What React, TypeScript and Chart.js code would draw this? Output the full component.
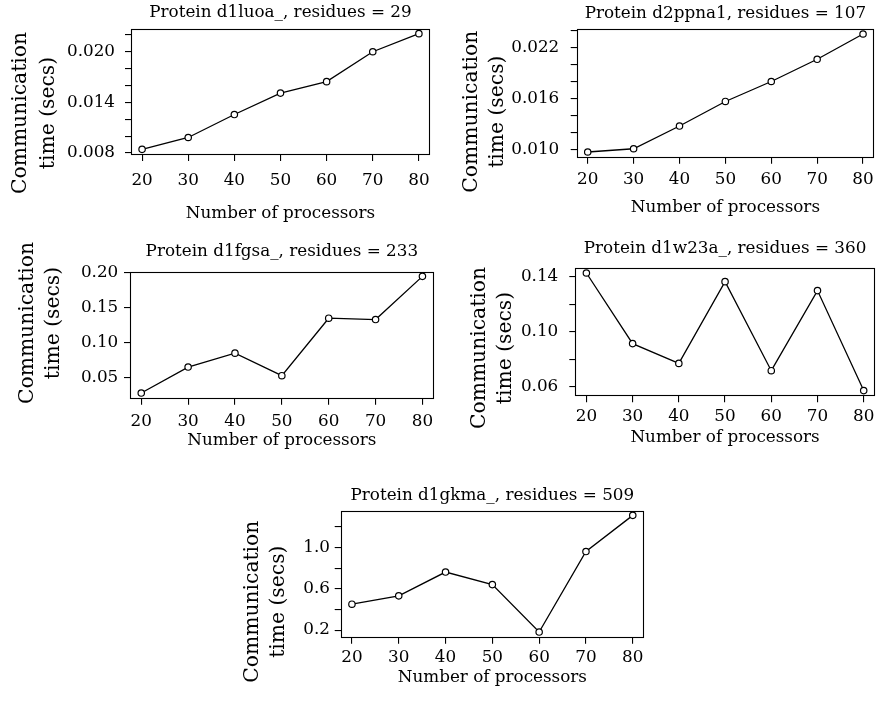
import React, { useEffect, useRef } from "react";
import { Chart, registerables } from "chart.js";

Chart.register(...registerables);

// ---------------- data ----------------
const PROCESSORS = [20, 30, 40, 50, 60, 70, 80];
const X_TICKS = [20, 30, 40, 50, 60, 70, 80];
const X_TICK_LABELS = ["20", "30", "40", "50", "60", "70", "80"];
const X_AXIS_TITLE = "Number of processors";
const Y_AXIS_TITLE = ["Communication", "time (secs)"];

const TITLE_D1LUOA = "Protein d1luoa_, residues = 29";
const TIME_D1LUOA = [0.00843, 0.00984, 0.01256, 0.0151, 0.01646, 0.02, 0.02215];
const YTICKS_D1LUOA = [0.008, 0.01, 0.012, 0.014, 0.016, 0.018, 0.02, 0.022];
const YLABELS_D1LUOA = ["0.008", "", "", "0.014", "", "", "0.020", ""];

const TITLE_D2PPNA1 = "Protein d2ppna1, residues = 107";
const TIME_D2PPNA1 = [0.00977, 0.01015, 0.01282, 0.01571, 0.01806, 0.02067, 0.02364];
const YTICKS_D2PPNA1 = [0.01, 0.012, 0.014, 0.016, 0.018, 0.02, 0.022, 0.024];
const YLABELS_D2PPNA1 = ["0.010", "", "", "0.016", "", "", "0.022", ""];

const TITLE_D1FGSA = "Protein d1fgsa_, residues = 233";
const TIME_D1FGSA = [0.0276, 0.0647, 0.0846, 0.0524, 0.1345, 0.1326, 0.1943];
const YTICKS_D1FGSA = [0.05, 0.1, 0.15, 0.2];
const YLABELS_D1FGSA = ["0.05", "0.10", "0.15", "0.20"];

const TITLE_D1W23A = "Protein d1w23a_, residues = 360";
const TIME_D1W23A = [0.1429, 0.0915, 0.0771, 0.1366, 0.0718, 0.1301, 0.0573];
const YTICKS_D1W23A = [0.06, 0.08, 0.1, 0.12, 0.14];
const YLABELS_D1W23A = ["0.06", "", "0.10", "", "0.14"];

const TITLE_D1GKMA = "Protein d1gkma_, residues = 509";
const TIME_D1GKMA = [0.451, 0.532, 0.763, 0.641, 0.181, 0.962, 1.313];
const YTICKS_D1GKMA = [0.2, 0.4, 0.6, 0.8, 1.0, 1.2];
const YLABELS_D1GKMA = ["0.2", "", "0.6", "", "1.0", ""];

// ---------------- style / layout ----------------
const FONT = "'DejaVu Serif', serif";
const FONT_SIZE = 16.8;
const YLAB_SIZE = 20.3;
const LH = FONT_SIZE * 1.2; // line height used by Chart.js
const MID = FONT_SIZE * 0.346; // baseline offset below canvas "middle"
const CAP = FONT_SIZE * 0.729; // cap / digit height
const X_TICK_LEN = 7;
const Y_TICK_LEN = 6;

// R-style axis range: data range extended by 4% on both sides
function rRange(values: number[]) {
  const lo = Math.min(...values);
  const hi = Math.max(...values);
  const d = (hi - lo) * 0.04;
  return [lo - d, hi + d];
}

type Layout = {
  left: number; top: number; width: number; height: number;
  box: { l: number; r: number; t: number; b: number };
  titleBase: number; // baseline of the main title
  yLabelGap: number; // gap between y tick end and label
  xLabelGap: number; // gap from box bottom to x label cap top
  xTitleTop: number; // cap top of x axis title
  ylab: { x: [number, number]; cy: number };
};

type PanelSpec = {
  title: string;
  values: number[];
  yTicks: number[];
  yLabels: string[];
  layout: Layout;
};

const PANELS: PanelSpec[] = [
  {
    title: TITLE_D1LUOA, values: TIME_D1LUOA, yTicks: YTICKS_D1LUOA, yLabels: YLABELS_D1LUOA,
    layout: {
      left: 0, top: 0, width: 440, height: 230,
      box: { l: 131, r: 434, t: 29, b: 154 },
      titleBase: 18.7, yLabelGap: 10, xLabelGap: 20.7, xTitleTop: 207.3,
      ylab: { x: [26, 53.5], cy: 113 },
    },
  },
  {
    title: TITLE_D2PPNA1, values: TIME_D2PPNA1, yTicks: YTICKS_D2PPNA1, yLabels: YLABELS_D2PPNA1,
    layout: {
      left: 440, top: 0, width: 440, height: 230,
      box: { l: 136.7, r: 439, t: 29.3, b: 156.7 },
      titleBase: 19, yLabelGap: 11.4, xLabelGap: 16.7, xTitleTop: 201,
      ylab: { x: [36.7, 62.5], cy: 111.7 },
    },
  },
  {
    title: TITLE_D1FGSA, values: TIME_D1FGSA, yTicks: YTICKS_D1FGSA, yLabels: YLABELS_D1FGSA,
    layout: {
      left: 0, top: 230, width: 440, height: 240,
      box: { l: 130, r: 434, t: 41.7, b: 167.7 },
      titleBase: 27.2, yLabelGap: 5.7, xLabelGap: 17.3, xTitleTop: 204,
      ylab: { x: [33.3, 59], cy: 93 },
    },
  },
  {
    title: TITLE_D1W23A, values: TIME_D1W23A, yTicks: YTICKS_D1W23A, yLabels: YLABELS_D1W23A,
    layout: {
      left: 440, top: 230, width: 440, height: 240,
      box: { l: 135.3, r: 439, t: 38.3, b: 165.3 },
      titleBase: 24, yLabelGap: 11, xLabelGap: 15.3, xTitleTop: 201.7,
      ylab: { x: [45, 71], cy: 118 },
    },
  },
  {
    title: TITLE_D1GKMA, values: TIME_D1GKMA, yTicks: YTICKS_D1GKMA, yLabels: YLABELS_D1GKMA,
    layout: {
      left: 220, top: 470, width: 440, height: 240,
      box: { l: 120.7, r: 424, t: 40.7, b: 166.7 },
      titleBase: 31, yLabelGap: 4.7, xLabelGap: 15, xTitleTop: 201.7,
      ylab: { x: [38.3, 64], cy: 131.7 },
    },
  },
];

// box around the plotting region
const boxPlugin = {
  id: "rBox",
  afterDraw(chart: any) {
    const { ctx, chartArea: a } = chart;
    ctx.save();
    ctx.strokeStyle = "#000";
    ctx.lineWidth = 1.1;
    const l = Math.round(a.left) + 0.5;
    const t = Math.round(a.top) + 0.5;
    const r = Math.round(a.right) - 0.5;
    const b = Math.round(a.bottom) + 0.5;
    ctx.strokeRect(l, t, r - l, b - t);
    ctx.restore();
  },
};

// two-line rotated y axis label
const yLabPlugin = {
  id: "rYLab",
  afterDraw(chart: any, _args: any, opts: any) {
    const { ctx } = chart;
    ctx.save();
    ctx.fillStyle = "#000";
    ctx.font = `${opts.size}px ${FONT}`;
    ctx.textAlign = "center";
    ctx.textBaseline = "alphabetic";
    (opts.lines as string[]).forEach((line, i) => {
      ctx.save();
      ctx.translate(opts.x[i], opts.cy);
      ctx.rotate(-Math.PI / 2);
      ctx.fillText(line, 0, 0);
      ctx.restore();
    });
    ctx.restore();
  },
};

function Panel({ spec }: { spec: PanelSpec }) {
  const ref = useRef<HTMLCanvasElement>(null);
  useEffect(() => {
    if (!ref.current) return;
    const L = spec.layout;
    const [xmin, xmax] = rRange(PROCESSORS);
    const [ymin, ymax] = rRange(spec.values);
    const font = { family: FONT, size: FONT_SIZE, weight: "normal" as const };
    const titleTop = L.titleBase - (LH / 2 + MID);
    const titleBottom = L.box.t - titleTop - LH;
    const xTickPad = L.xLabelGap + CAP - MID - X_TICK_LEN - LH / 2;
    const xTitleBottom = L.height - LH / 2 - (L.xTitleTop - MID + CAP);
    const chart = new Chart(ref.current, {
      type: "line",
      data: {
        datasets: [
          {
            data: PROCESSORS.map((x, i) => ({ x, y: spec.values[i] })),
            borderColor: "#000",
            borderWidth: 1.3,
            pointRadius: 3.2,
            pointBorderWidth: 1.2,
            pointBackgroundColor: "#fff",
            pointBorderColor: "#000",
            tension: 0,
            fill: false,
          },
        ],
      },
      options: {
        animation: false,
        responsive: false,
        devicePixelRatio: 1,
        layout: { padding: { left: 0, top: 0, right: L.width - L.box.r, bottom: 0 } },
        plugins: {
          legend: { display: false },
          tooltip: { enabled: false },
          title: {
            display: true,
            text: spec.title,
            fullSize: false,
            color: "#000",
            font,
            padding: { top: titleTop, bottom: titleBottom },
          },
          // @ts-ignore
          rYLab: { lines: Y_AXIS_TITLE, x: L.ylab.x, cy: L.ylab.cy, size: YLAB_SIZE },
        },
        scales: {
          x: {
            type: "linear",
            min: xmin,
            max: xmax,
            bounds: "data",
            afterBuildTicks: (s: any) => {
              s.ticks = X_TICKS.map((v) => ({ value: v }));
            },
            afterFit: (s: any) => {
              s.height = L.height - L.box.b;
            },
            ticks: {
              autoSkip: false,
              maxRotation: 0,
              color: "#000",
              font,
              padding: xTickPad,
              callback: (_v: any, i: number) => X_TICK_LABELS[i],
            },
            grid: { drawOnChartArea: false, drawTicks: true, tickLength: X_TICK_LEN, color: "#000", lineWidth: 1.1 },
            border: { display: false },
            title: {
              display: true,
              text: X_AXIS_TITLE,
              color: "#000",
              font,
              padding: { top: 0, bottom: xTitleBottom },
            },
          },
          y: {
            type: "linear",
            min: ymin,
            max: ymax,
            bounds: "data",
            afterBuildTicks: (s: any) => {
              s.ticks = spec.yTicks.map((v) => ({ value: v }));
            },
            afterFit: (s: any) => {
              s.width = L.box.l;
            },
            ticks: {
              autoSkip: false,
              color: "#000",
              font,
              padding: L.yLabelGap,
              callback: (_v: any, i: number) => spec.yLabels[i],
            },
            grid: { drawOnChartArea: false, drawTicks: true, tickLength: Y_TICK_LEN, color: "#000", lineWidth: 1.1 },
            border: { display: false },
          },
        },
      },
      plugins: [boxPlugin, yLabPlugin],
    } as any);
    return () => chart.destroy();
  }, [spec]);
  const L = spec.layout;
  return (
    <canvas
      ref={ref}
      width={L.width}
      height={L.height}
      style={{ position: "absolute", left: L.left, top: L.top, width: L.width, height: L.height }}
    />
  );
}

export default function App() {
  return (
    <div style={{ position: "absolute", left: 0, top: 0, width: 880, height: 710, background: "#fff", overflow: "hidden" }}>
      {PANELS.map((p) => (
        <Panel key={p.title} spec={p} />
      ))}
    </div>
  );
}
